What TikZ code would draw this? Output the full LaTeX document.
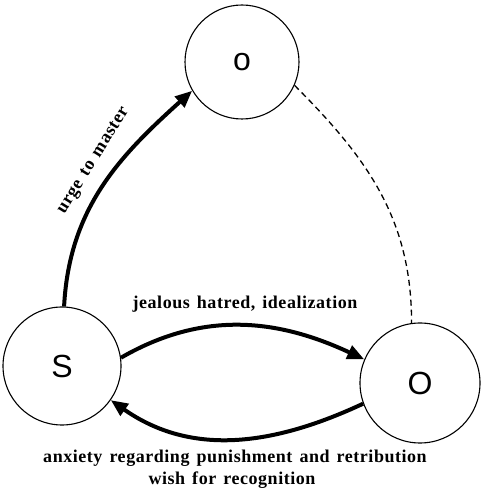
\documentclass[tikz,border=0pt]{standalone}
\usepackage{fontspec}
\setmainfont{Liberation Serif}
\newfontfamily\lettersf{Liberation Sans}
\newfontfamily\labelfont[LetterSpace=3,WordSpace=1.4]{Liberation Serif Bold}
\usetikzlibrary{arrows.meta}
\begin{document}
\begin{tikzpicture}[x=1pt,y=1pt,
  person/.style={circle,draw,line width=1.1pt,inner sep=0pt,font=\lettersf\fontsize{32}{32}\selectfont},
  thick arrow/.style={line width=4pt,-{Triangle[length=17pt,width=14pt]}},
  lbl/.style={font=\labelfont\fontsize{18}{20}\selectfont,inner sep=0pt}]
\useasboundingbox (0,0) rectangle (483,495);
\node[person,minimum size=114pt] (T) at (242,433) {o};
\node[person,minimum size=118pt] (S) at (62,129) {S};
\node[person,minimum size=120pt] (O) at (420,112) {O};
\draw[thick arrow] (S.88) to[out=87,in=222] (T.210);
\draw[thick arrow] (S.8) to[out=30,in=155] (O.157);
\draw[thick arrow] (O.200) to[out=205,in=-35] (S.325);
\draw[dashed,line width=1.3pt,dash pattern=on 6pt off 4pt] (T.336) to[out=-45,in=90] (O.98);
\node[lbl,rotate=58] (u) at (94,334) {urge to master};
\node[lbl] (j) at (245,191) {jealous hatred, idealization};
\node[lbl] (a) at (235,37) {anxiety regarding punishment and retribution};
\node[lbl] (w) at (232,15) {wish for recognition};
\end{tikzpicture}
\end{document}
